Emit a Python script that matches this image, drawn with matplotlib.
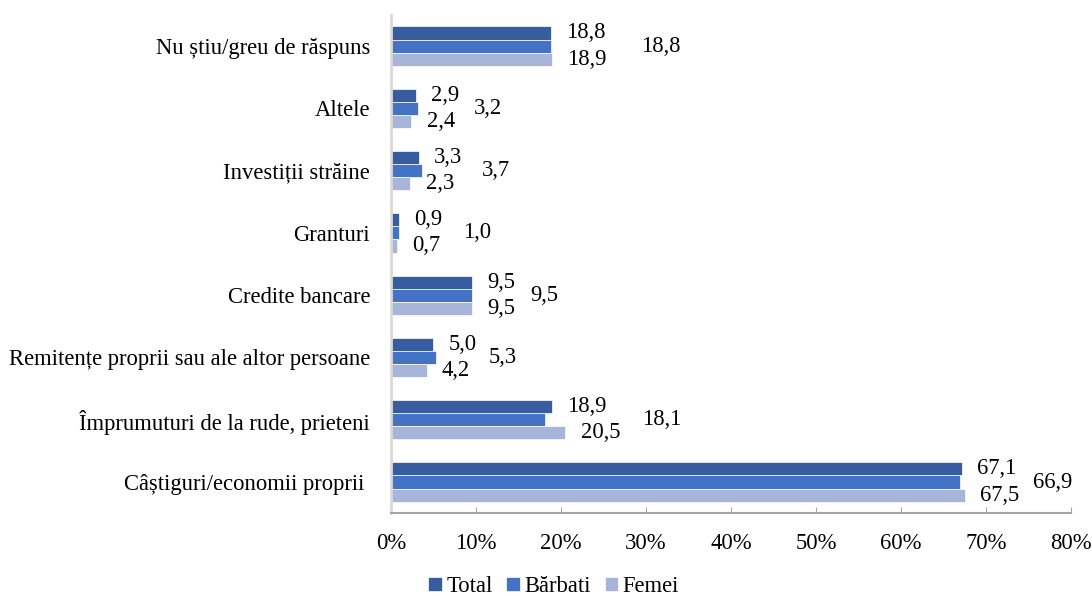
import matplotlib.pyplot as plt
import numpy as np

plt.rcParams['font.family'] = ['Liberation Serif', 'DejaVu Serif']

# Data (top to bottom as shown)
categories = ["Nu știu/greu de răspuns", "Altele", "Investiții străine", "Granturi",
              "Credite bancare", "Remitențe proprii sau ale altor persoane",
              "Împrumuturi de la rude, prieteni", "Câștiguri/economii proprii "]
total = [18.8, 2.9, 3.3, 0.9, 9.5, 5.0, 18.9, 67.1]
barbati = [18.8, 3.2, 3.7, 1.0, 9.5, 5.3, 18.1, 66.9]
femei = [18.9, 2.4, 2.3, 0.7, 9.5, 4.2, 20.5, 67.5]

# label shift for the Bărbati labels (points), placed by hand in the original
barbati_dx = [65, 40, 43, 46, 42, 38, 70, 53]

c_total = '#375C9F'
c_barbati = '#4472C4'
c_femei = '#A8B5DB'

fig = plt.figure(figsize=(10.92, 5.96), dpi=100)
ax = fig.add_axes([0.358, 0.139, 0.623, 0.836])

y = np.arange(len(categories))
h = 0.21
ax.barh(y - h, total, h, color=c_total, edgecolor='white', linewidth=0.5, label='Total')
ax.barh(y, barbati, h, color=c_barbati, edgecolor='white', linewidth=0.5, label='Bărbati')
ax.barh(y + h, femei, h, color=c_femei, edgecolor='white', linewidth=0.5, label='Femei')

fmt = lambda v: f'{v:.1f}'.replace('.', ',')
fs = 16.3
for i in range(len(categories)):
    ax.annotate(fmt(total[i]), (total[i], y[i] - h), xytext=(11, 0), textcoords='offset points',
                ha='left', va='center', fontsize=fs)
    ax.annotate(fmt(femei[i]), (femei[i], y[i] + h), xytext=(11, 0), textcoords='offset points',
                ha='left', va='center', fontsize=fs)
    ax.annotate(fmt(barbati[i]), (barbati[i], y[i]), xytext=(barbati_dx[i], 0), textcoords='offset points',
                ha='left', va='center', fontsize=fs)

ax.set_xlim(0, 80)
ax.set_ylim(len(categories) - 0.5, -0.5)
ax.set_xticks(np.arange(0, 81, 10))
ax.set_xticklabels([f'{v}%' for v in range(0, 81, 10)], fontsize=fs)
ax.set_yticks(y)
ax.set_yticklabels(categories, fontsize=fs)

ax.tick_params(axis='x', direction='in', length=4, color='#A6A6A6', pad=14)
ax.tick_params(axis='y', length=0, pad=15)

for s in ['top', 'right']:
    ax.spines[s].set_visible(False)
ax.spines['bottom'].set_color('#A6A6A6')
ax.spines['bottom'].set_linewidth(1.5)
ax.spines['left'].set_color('#D9D9D9')
ax.spines['left'].set_linewidth(2)

fig.legend(loc='center', bbox_to_anchor=(0.507, 0.016), ncol=3, frameon=False, fontsize=fs,
           handlelength=0.6, handleheight=0.6, handletextpad=0.2, columnspacing=0.6,
           borderpad=0)

plt.savefig("out.png", dpi=100)
plt.close()
